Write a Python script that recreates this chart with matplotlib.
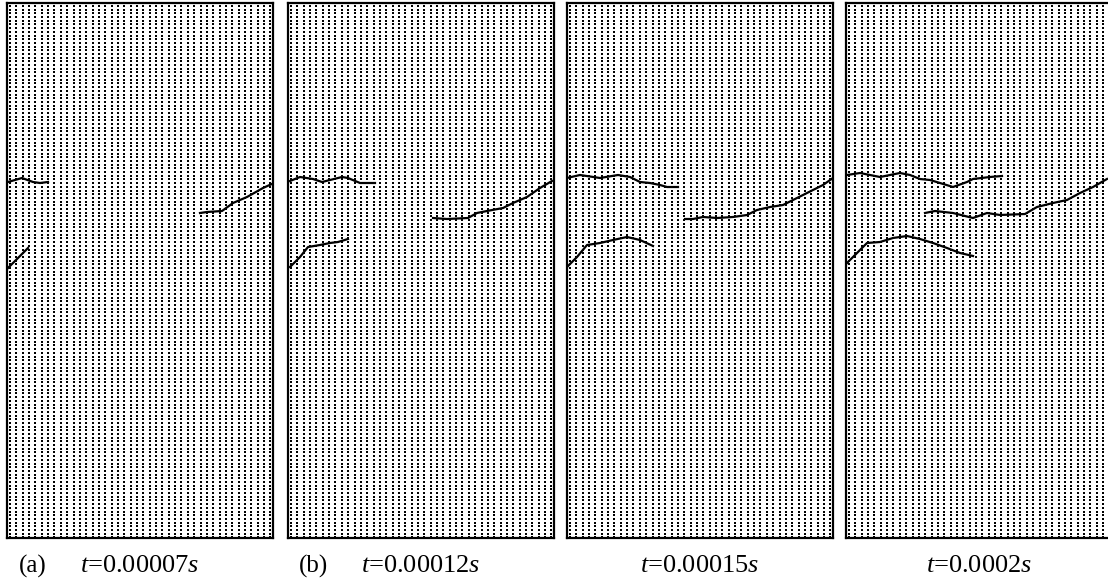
import numpy as np
import matplotlib.pyplot as plt

plt.rcParams['mathtext.fontset'] = 'custom'
plt.rcParams['mathtext.it'] = 'Liberation Serif:italic'
plt.rcParams['mathtext.rm'] = 'Liberation Serif'

# lattice of particles (columns x rows), in panel units
n_cols = 42
n_rows = 145
col_step = 6.35
row_step = 3.69
panel_w = 266
panel_h = 535

labels = ["(a)", "(b)", "", ""]
times = ["0.00007", "0.00012", "0.00015", "0.0002"]

# crack paths (x, y from top-left of panel)
cracks = [
    [
        [(1, 179), (15, 175), (26, 179), (33, 180), (41, 179)],
        [(1, 265), (21, 245)],
        [(193, 210), (200, 209), (215, 208), (226, 200), (240, 194), (256, 185), (267, 180)],
    ],
    [
        [(2, 178), (12, 174), (25, 176), (34, 179), (42, 177), (54, 174), (60, 175),
         (72, 180), (79, 180), (87, 180)],
        [(2, 264), (12, 254), (20, 244), (32, 242), (42, 240), (50, 239), (60, 236)],
        [(145, 215), (159, 216), (180, 215), (189, 210), (199, 208), (215, 205),
         (225, 200), (239, 194), (252, 185), (264, 178)],
    ],
    [
        [(0, 175), (13, 172), (33, 175), (51, 172), (63, 174), (73, 179), (83, 180),
         (93, 182), (100, 184), (111, 184)],
        [(0, 264), (10, 254), (20, 242), (33, 240), (46, 237), (60, 234), (73, 237), (86, 243)],
        [(118, 216), (126, 216), (136, 214), (150, 215), (166, 214), (180, 212), (190, 207),
         (203, 204), (216, 202), (226, 197), (240, 190), (256, 182), (266, 175)],
    ],
    [
        [(1, 172), (14, 170), (34, 174), (54, 170), (64, 172), (74, 176), (84, 177),
         (94, 180), (107, 184), (121, 179), (127, 176), (144, 174), (156, 173)],
        [(1, 260), (11, 250), (21, 240), (34, 239), (47, 235), (61, 233), (74, 236),
         (87, 240), (101, 245), (114, 250), (127, 253)],
        [(79, 210), (89, 208), (107, 210), (127, 215), (141, 210), (154, 212), (179, 211),
         (191, 204), (207, 200), (221, 197), (234, 190), (247, 184), (261, 176)],
    ],
]

W, H = 1108, 583
fig = plt.figure(figsize=(W / 100, H / 100), dpi=100)
fig.patch.set_facecolor('white')

lefts = [7, 288, 567, 846]
top = 3

gx, gy = np.meshgrid(3 + col_step * np.arange(n_cols), 3 + row_step * np.arange(n_rows))

for i in range(4):
    ax = fig.add_axes([lefts[i] / W, 1 - (top + panel_h) / H, panel_w / W, panel_h / H])
    ax.scatter(gx.ravel(), gy.ravel(), s=3.8, marker='s', c='black', linewidths=0)
    for path in cracks[i]:
        p = np.array(path)
        ax.plot(p[:, 0], p[:, 1], color='black', lw=1.6)
    ax.set_xlim(0, panel_w)
    ax.set_ylim(panel_h, 0)
    ax.set_xticks([])
    ax.set_yticks([])
    for sp in ax.spines.values():
        sp.set_linewidth(1.6)

    cx = (lefts[i] + panel_w / 2) / W
    ty = 1 - 566 / H
    fig.text(cx, ty, "$t$=" + times[i] + "$s$", ha='center', va='center',
             fontsize=19, family='Liberation Serif')
    if labels[i]:
        fig.text((lefts[i] + 40) / W, ty, labels[i], ha='right', va='center',
                 fontsize=18, family='Liberation Serif')

fig.savefig('out.png', dpi=100, facecolor='white')
